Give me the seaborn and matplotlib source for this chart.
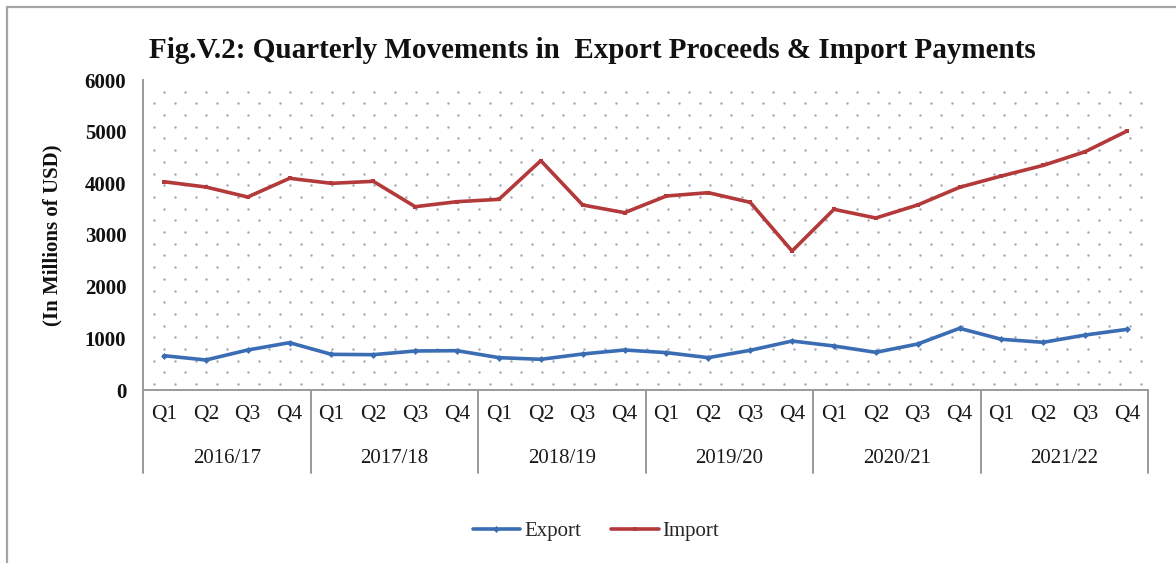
import numpy as np
import pandas as pd
import matplotlib
matplotlib.use("Agg")
import matplotlib.pyplot as plt
from matplotlib.patches import Rectangle
from matplotlib.lines import Line2D
import seaborn as sns

# Quarterly values, in millions of USD
years = ["2016/17", "2017/18", "2018/19", "2019/20", "2020/21", "2021/22"]
quarters = ["Q1", "Q2", "Q3", "Q4"]
export_vals = [664, 581, 774, 916,
               690, 684, 755, 761,
               626, 594, 697, 774,
               723, 626, 768, 948,
               852, 729, 890, 1194,
               981, 923, 1064, 1174]
import_vals = [4031, 3929, 3735, 4097,
               4000, 4039, 3548, 3645,
               3690, 4439, 3581, 3432,
               3755, 3819, 3632, 2690,
               3497, 3329, 3581, 3923,
               4142, 4348, 4613, 5013]
y_ticks = [0, 1000, 2000, 3000, 4000, 5000, 6000]

n = len(export_vals)
df = pd.DataFrame({
    "idx": list(range(n)) * 2,
    "value": export_vals + import_vals,
    "series": ["Export"] * n + ["Import"] * n,
})

sns.set_theme(style="white")
plt.rcParams["font.family"] = ["Liberation Serif", "DejaVu Serif"]

W, H = 1176, 563
fig = plt.figure(figsize=(W / 100, H / 100), dpi=100)
fig.patch.set_facecolor("white")

# outer frame of the chart
fig.patches.append(Rectangle((7 / W, -0.05), 1.2, 1 - 7 / H + 0.05,
                             transform=fig.transFigure, fill=False,
                             edgecolor="#a6a6a6", linewidth=1.6, zorder=0))

ax = fig.add_axes([143 / W, (H - 390) / H, (1148 - 143) / W, 310 / H])
ax.set_facecolor("white")

# dotted pattern fill of the plot area (staggered rows)
dx, dy = 21.0 / 1005, 11.7 / 310
pts = []
row = 0
yy = 0.5 * dy
while yy < 1.0:
    off = 0.5 * dx if row % 2 else 0.0
    xs = np.arange(0.5 * dx + off, 1.0, dx)
    pts.extend([(x, yy) for x in xs])
    yy += dy
    row += 1
pts = np.array(pts)
ax.scatter(pts[:, 0], pts[:, 1], s=3.2, color="#a4a9b6", linewidths=0,
           transform=ax.transAxes, zorder=0.5)

palette = {"Export": "#3a6db3", "Import": "#b3393a"}
sns.lineplot(data=df, x="idx", y="value", hue="series", style="series",
             markers={"Export": "D", "Import": "s"}, dashes=False,
             palette=palette, linewidth=2.6, markersize=3.5,
             markeredgewidth=0, ax=ax, legend=False, zorder=3)

ax.set_xlim(-0.5, n - 0.5)
ax.set_ylim(0, 6000)
ax.set_yticks(y_ticks)
ax.set_yticklabels([str(v) for v in y_ticks], fontsize=15, fontweight="bold",
                   color="#111111")
ax.tick_params(axis="y", length=0, pad=12)
ax.set_xticks([])
ax.set_xlabel("")
ax.set_ylabel("(In Millions of USD)", fontsize=15, fontweight="bold",
              labelpad=16, color="#111111")

for side in ["top", "right"]:
    ax.spines[side].set_visible(False)
for side in ["left", "bottom"]:
    ax.spines[side].set_color("#9a9a9a")
    ax.spines[side].set_linewidth(1.4)

# two-level category axis: quarters then fiscal years
trans = ax.get_xaxis_transform()
for i in range(n):
    ax.text(i, -0.08, quarters[i % 4], transform=trans, ha="center",
            va="center", fontsize=15.5, color="#1a1a1a")
for k, yr in enumerate(years):
    ax.text(4 * k + 1.5, -0.222, yr, transform=trans, ha="center",
            va="center", fontsize=15, color="#1a1a1a")
for k in range(len(years) + 1):
    ax.add_line(Line2D([4 * k - 0.5, 4 * k - 0.5], [0, -0.268],
                       transform=trans, color="#9a9a9a", linewidth=1.4,
                       clip_on=False))

fig.text(592 / W, 1 - 50 / H,
         "Fig.V.2: Quarterly Movements in  Export Proceeds & Import Payments",
         ha="center", va="center", fontsize=21, fontweight="bold",
         color="#111111")

handles = [Line2D([], [], color=palette["Export"], linewidth=2.6, marker="D",
                  markersize=3.5, markeredgewidth=0),
           Line2D([], [], color=palette["Import"], linewidth=2.6, marker="s",
                  markersize=3.5, markeredgewidth=0)]
fig.legend(handles, ["Export", "Import"], loc="center",
           bbox_to_anchor=(596 / W, 1 - 531 / H), ncol=2, frameon=False,
           fontsize=15, handlelength=2.3, handletextpad=0.2, columnspacing=1.4)

fig.savefig("out.png", dpi=100, facecolor="white")
